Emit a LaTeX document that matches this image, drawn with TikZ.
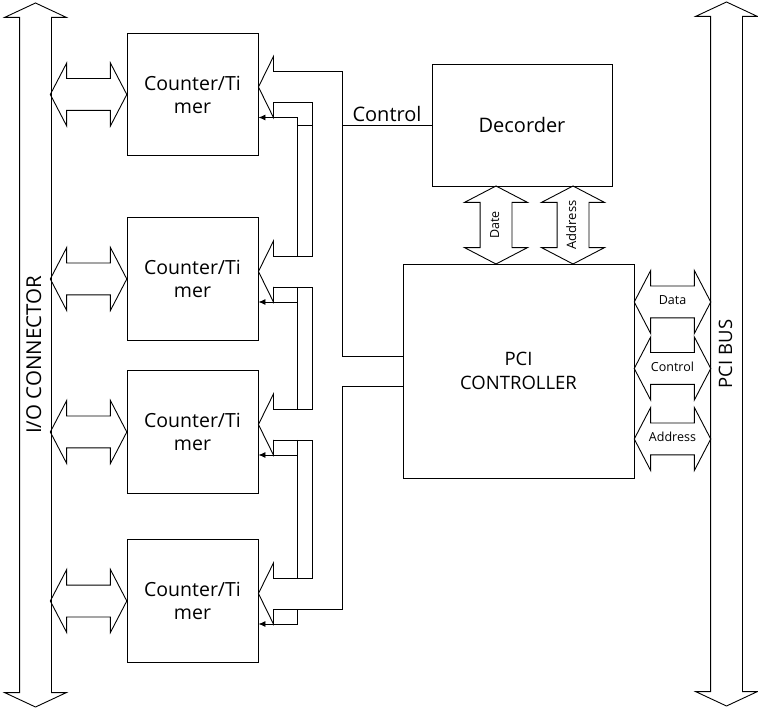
\documentclass[tikz,border=0pt]{standalone}
\usepackage{fontspec}
\setmainfont{Open Sans}
\usetikzlibrary{shapes.arrows,arrows.meta,calc}
\begin{document}
\begin{tikzpicture}[x=1pt,y=-1pt,line width=0.9pt,
  box/.style={draw,minimum width=131pt,minimum height=122.5pt,align=center,font=\fontsize{19.5}{23}\selectfont},
  dblarr/.style={double arrow,draw,minimum height=76.5pt,minimum width=62pt,double arrow head extend=15.5pt,double arrow tip angle=125,
    inner xsep=0pt,inner ysep=9.5pt,text height=9pt,text depth=3pt,font=\fontsize{12.5}{14}\selectfont},
  bus/.style={double arrow,draw,minimum height=704pt,minimum width=61pt,double arrow head extend=15pt,double arrow tip angle=130,
    inner xsep=0pt,inner ysep=5pt,text height=16pt,text depth=5pt},
  sig/.style={-{Latex[length=7pt,width=6pt]}}]
\useasboundingbox (0,0) rectangle (758,708);

% buses
\node[bus,rotate=90,font=\fontsize{20.5}{24}\selectfont] (ioconn) at (35.5,355) {I/O CONNECTOR};
\node[bus,rotate=90,font=\fontsize{18.5}{22}\selectfont] (pcibus) at (726.5,354) {PCI BUS};

\node[box] (ct1) at (192.5,94.5) {Counter/Ti\\mer};
\node[box] (ct2) at (192.5,279) {Counter/Ti\\mer};
\node[box] (ct3) at (192.5,432) {Counter/Ti\\mer};
\node[box] (ct4) at (192.5,601) {Counter/Ti\\mer};

\node[draw,minimum width=180pt,minimum height=122pt,font=\fontsize{20}{23}\selectfont] (dec) at (522,125) {Decorder};
\node[draw,minimum width=231pt,minimum height=214pt,align=center,font=\fontsize{18.5}{24}\selectfont] (pci) at (518.5,371) {PCI\\CONTROLLER};

\foreach \i in {1,...,4}
  \node[dblarr] (io\i) at ($(ct\i.west)+(-38,0)$) {};

\node[dblarr] (data) at (672.5,302) {Data};
\node[dblarr] (ctrl) at (672.5,368.5) {Control};
\node[dblarr] (addr) at (672.5,439) {Address};

\node[dblarr,rotate=90,minimum height=78pt] (date) at (496,225) {Date};
\node[dblarr,rotate=90,minimum height=78pt,font=\fontsize{13}{14}\selectfont] (adr) at (573,225) {Address};

% control heads into the counters
\foreach \i in {1,...,4}{
  \coordinate (tip\i) at ($(ct\i.east)+(0,-7.5)$);
  \draw ($(tip\i)+(15,-15.5)$) -- ++(0,-15) -- (tip\i) -- ++(15,30.5) -- ++(0,-15);
}
\foreach \i in {1,...,3}
  \draw[sig] ($(tip\i)+(39,30.5)$) -- ($(tip\i)+(0,30.5)$);
\draw[sig] ($(tip4)+(39,15.5)$) -- ($(tip4)+(39,30.5)$) -- ($(tip4)+(0,30.5)$);

\coordinate (wa) at ($(tip1)+(39,0)$);
\coordinate (wb) at ($(tip1)+(54,0)$);
\coordinate (bx) at ($(tip1)+(84,0)$);

% links between the counters
\foreach \i/\j in {1/2,2/3,3/4}
  \draw ($(tip\i)+(15,15.5)$) -- ($(tip\i)+(54,15.5)$) -- ($(tip\j)+(54,-15.5)$) -- ($(tip\j)+(15,-15.5)$);
\draw ($(tip1)+(39,30.5)$) -- ($(tip2)+(39,-15.5)$);
\draw ($(tip2)+(39,15.5)$) -- ($(tip3)+(39,-15.5)$);
\draw ($(tip3)+(39,15.5)$) -- ($(tip4)+(39,-15.5)$);
\draw (wa |- dec.west) -- (wb |- dec.west);

% to the pci controller
\draw ($(tip1)+(15,-15.5)$) -- ($(tip1)+(84,-15.5)$) |- ($(pci.west)+(0,-15)$);
\draw ($(tip4)+(15,15.5)$) -- ($(tip4)+(84,15.5)$) |- ($(pci.west)+(0,15)$);
\draw (dec.west) -- (bx |- dec.west) node[midway,above,font=\fontsize{20}{23}\selectfont] {Control};
\end{tikzpicture}
\end{document}
